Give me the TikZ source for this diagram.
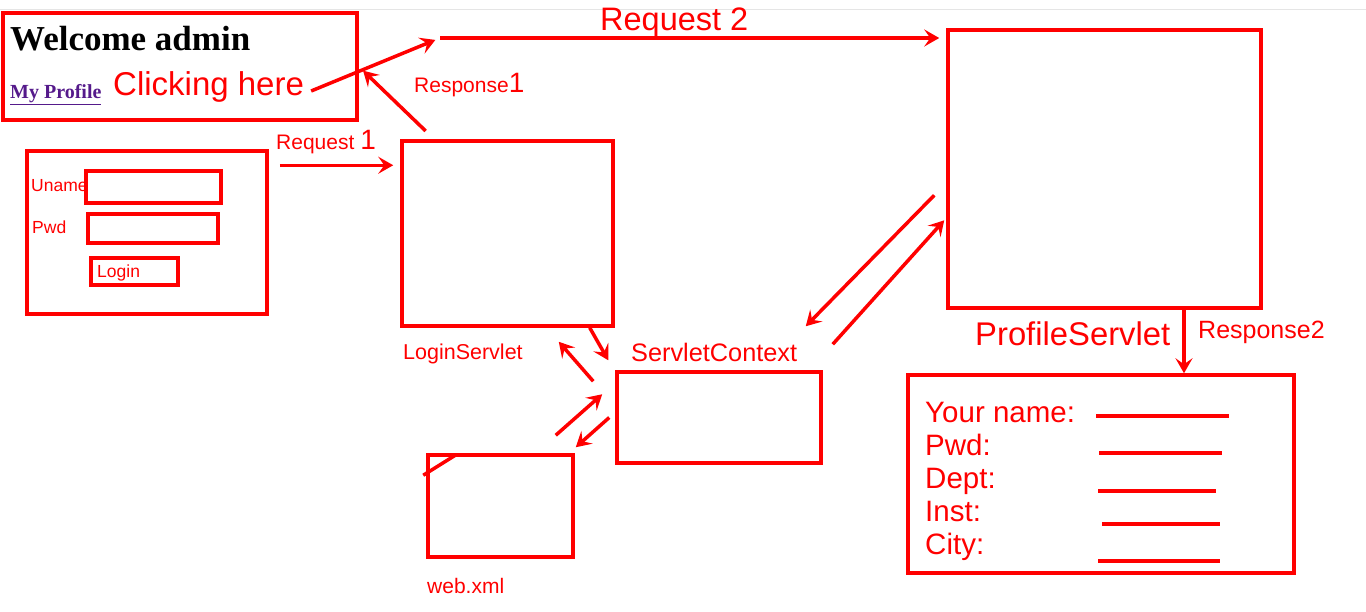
\documentclass[tikz,border=0pt]{standalone}
\usepackage{fontspec}
\setmainfont{Liberation Serif}
\newfontfamily\arial{Liberation Sans}
\usetikzlibrary{arrows.meta}
\definecolor{pen}{HTML}{FF0000}
\definecolor{visited}{HTML}{551A8B}
\newcommand{\px}[1]{\fontsize{#1}{#1}\selectfont}

\begin{document}
\begin{tikzpicture}[x=1pt, y=-1pt,
  box/.style={draw=pen, line width=3.5pt, inner sep=0pt},
  lbl/.style={text=pen, inner sep=0pt, anchor=base west, font=\arial\px{#1}},
  arr/.style={->, draw=pen, line width=3.5pt},
  >={Stealth[length=15pt, width=17pt, inset=6pt]}]
\useasboundingbox (0,0) rectangle (1366,611);
\draw[gray!20, line width=1pt] (0,9) -- (1366,9);

% browser pages
\node[box, minimum width=354pt, minimum height=107pt] (welcome) at (180,66.5) {};
\node[font=\bfseries\px{35}, inner sep=0pt, anchor=base west] (title) at (10,50) {Welcome admin};
\node[text=visited, font=\bfseries\px{20}, inner sep=0pt, anchor=base west] (link) at (10,98) {\underline{My Profile}};
\node[lbl=33] (click) at (113,95) {Clicking here};

\node[box, minimum width=240pt, minimum height=163pt] (form) at (147,232.5) {};
\node[box, minimum width=135pt, minimum height=32pt] (ufield) at (153.5,187) {};
\node[box, minimum width=130pt, minimum height=29pt] (pfield) at (153,228.5) {};
\node[box, minimum width=87pt, minimum height=27pt] (loginbtn) at (134.5,271.5) {};
\node[lbl=17.5] (uname) at (31,191) {Uname};
\node[lbl=17.5] (pwd) at (32,233) {Pwd};
\node[lbl=17.5] (logintxt) at (97,277) {Login};

% servlets
\node[box, minimum width=211pt, minimum height=185pt] (loginsv) at (507.5,233.5) {};
\node[lbl=21.5] (loginname) at (403,359) {LoginServlet};
\node[box, minimum width=204pt, minimum height=91pt] (ctx) at (719,417.5) {};
\node[lbl=25.3] (ctxname) at (631,361) {ServletContext};
\node[box, minimum width=145pt, minimum height=102pt] (webxml) at (500.5,506) {};
\node[lbl=21] (webname) at (427,593) {web.xml};
\node[box, minimum width=313pt, minimum height=278pt] (profile) at (1104.5,169) {};
\node[lbl=32.8] (profname) at (975,345) {ProfileServlet};

% profile page
\node[box, minimum width=386pt, minimum height=198pt] (result) at (1101,474) {};
\foreach \t/\yb/\yl/\a/\b [count=\i] in {Your name:/422/416/1096/1229, Pwd:/455/453/1099/1222,
    Dept:/488/491/1098/1216, Inst:/521/524/1102/1220, City:/554/561/1098/1220}{
  \node[lbl=29.5] (row\i) at (925,\yb) {\t};
  \draw[pen, line width=3.5pt] (\a,\yl) -- (\b,\yl);
}

% requests and responses
\coordinate (r2start) at (440,38);
\draw[arr, shorten >=5pt] ([shift={(7pt,4pt)}]click.base east) -- (r2start);
\draw[arr, shorten >=7pt] (r2start) -- (profile.west |- r2start);
\node[lbl=32.5] (req2) at (600,30) {Request 2};
\draw[arr, shorten <=12pt, shorten >=6pt] ([xshift=34pt]loginsv.north west) -- (welcome.east);
\node[lbl=21] (resp1) at (414,92) {Response{\px{28}1}};
\draw[arr, shorten <=11pt, shorten >=7pt] ([yshift=-16pt]form.north east) -- ([yshift=-26pt]loginsv.north west);
\node[lbl=21] (req1) at (276,149) {Request {\px{28}1}};

\draw[arr] ([xshift=-25pt]loginsv.south east) -- ([shift={(-7pt,10pt)}]ctx.north west);
\draw[arr] ([shift={(-22pt,-11pt)}]ctx.north west) -- ([shift={(-56pt,-14pt)}]loginsv.south east);
\draw[arr] ([shift={(-19pt,18pt)}]webxml.north east) -- ([shift={(-13pt,-24pt)}]ctx.north west);
\draw[arr] ([xshift=-6pt]ctx.west) -- ([shift={(1pt,6pt)}]webxml.north east);
\draw[pen, line width=3.5pt] ([shift={(-3pt,-22pt)}]webxml.north west) -- ([shift={(29pt,-2pt)}]webxml.north west);

\draw[arr] ([shift={(-12pt,-167pt)}]profile.north west) -- ([shift={(-17pt,44pt)}]ctx.north east);
\draw[arr] ([shift={(10pt,26pt)}]ctx.north east) -- ([shift={(-2pt,-192pt)}]profile.north west);
\draw[arr] ([xshift=79.5pt]profile.south) -- ([xshift=83pt]result.north);
\node[lbl=25] (resp2) at (1198,338) {Response2};
\end{tikzpicture}
\end{document}
